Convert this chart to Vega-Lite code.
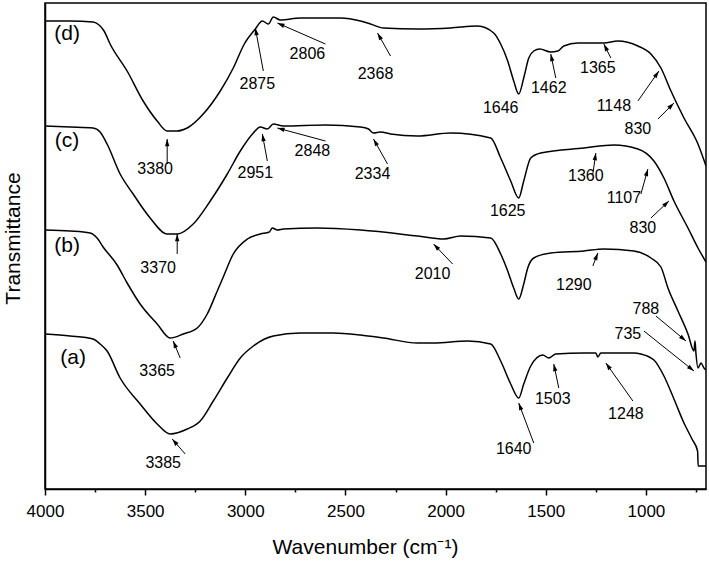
{
  "$schema": "https://vega.github.io/schema/vega-lite/v6.json",
  "width": 661,
  "height": 486,
  "autosize": "none",
  "padding": {"left": 45, "top": 3, "right": 3, "bottom": 72},
  "background": "white",
  "config": {"view": {"stroke": "black", "strokeWidth": 1.5}, "font": "Liberation Sans"},
  "datasets": {
    "spectra": [
      {"sample": "d", "wn": 4000, "t": 468}, {"sample": "d", "wn": 3875, "t": 468}, {"sample": "d", "wn": 3760, "t": 467}, {"sample": "d", "wn": 3730, "t": 464}, {"sample": "d", "wn": 3705, "t": 458}, {"sample": "d", "wn": 3675, "t": 445}, {"sample": "d", "wn": 3590, "t": 418}, {"sample": "d", "wn": 3510, "t": 388}, {"sample": "d", "wn": 3440, "t": 368}, {"sample": "d", "wn": 3390, "t": 358}, {"sample": "d", "wn": 3340, "t": 358}, {"sample": "d", "wn": 3290, "t": 361}, {"sample": "d", "wn": 3210, "t": 375}, {"sample": "d", "wn": 3125, "t": 398}, {"sample": "d", "wn": 3060, "t": 421}, {"sample": "d", "wn": 3005, "t": 445}, {"sample": "d", "wn": 2950, "t": 460}, {"sample": "d", "wn": 2915, "t": 468}, {"sample": "d", "wn": 2885, "t": 465}, {"sample": "d", "wn": 2860, "t": 472}, {"sample": "d", "wn": 2825, "t": 469}, {"sample": "d", "wn": 2725, "t": 471}, {"sample": "d", "wn": 2525, "t": 471}, {"sample": "d", "wn": 2425, "t": 468}, {"sample": "d", "wn": 2375, "t": 465}, {"sample": "d", "wn": 2310, "t": 461}, {"sample": "d", "wn": 2140, "t": 460}, {"sample": "d", "wn": 1975, "t": 461}, {"sample": "d", "wn": 1840, "t": 463}, {"sample": "d", "wn": 1760, "t": 456}, {"sample": "d", "wn": 1725, "t": 445}, {"sample": "d", "wn": 1690, "t": 428}, {"sample": "d", "wn": 1660, "t": 408}, {"sample": "d", "wn": 1635, "t": 395}, {"sample": "d", "wn": 1610, "t": 411}, {"sample": "d", "wn": 1585, "t": 431}, {"sample": "d", "wn": 1560, "t": 438}, {"sample": "d", "wn": 1530, "t": 440}, {"sample": "d", "wn": 1475, "t": 437}, {"sample": "d", "wn": 1440, "t": 438}, {"sample": "d", "wn": 1410, "t": 443}, {"sample": "d", "wn": 1340, "t": 446}, {"sample": "d", "wn": 1210, "t": 446}, {"sample": "d", "wn": 1140, "t": 448}, {"sample": "d", "wn": 1040, "t": 443}, {"sample": "d", "wn": 975, "t": 435}, {"sample": "d", "wn": 925, "t": 421}, {"sample": "d", "wn": 875, "t": 398}, {"sample": "d", "wn": 810, "t": 371}, {"sample": "d", "wn": 740, "t": 345}, {"sample": "d", "wn": 700, "t": 323},
      {"sample": "c", "wn": 4000, "t": 363}, {"sample": "c", "wn": 3875, "t": 362}, {"sample": "c", "wn": 3760, "t": 361}, {"sample": "c", "wn": 3725, "t": 357}, {"sample": "c", "wn": 3690, "t": 345}, {"sample": "c", "wn": 3625, "t": 315}, {"sample": "c", "wn": 3560, "t": 295}, {"sample": "c", "wn": 3475, "t": 271}, {"sample": "c", "wn": 3390, "t": 255}, {"sample": "c", "wn": 3340, "t": 255}, {"sample": "c", "wn": 3260, "t": 265}, {"sample": "c", "wn": 3175, "t": 288}, {"sample": "c", "wn": 3090, "t": 315}, {"sample": "c", "wn": 3025, "t": 338}, {"sample": "c", "wn": 2960, "t": 356}, {"sample": "c", "wn": 2925, "t": 362}, {"sample": "c", "wn": 2890, "t": 360}, {"sample": "c", "wn": 2860, "t": 365}, {"sample": "c", "wn": 2810, "t": 363}, {"sample": "c", "wn": 2600, "t": 364}, {"sample": "c", "wn": 2425, "t": 362}, {"sample": "c", "wn": 2385, "t": 360}, {"sample": "c", "wn": 2360, "t": 356}, {"sample": "c", "wn": 2325, "t": 357}, {"sample": "c", "wn": 2275, "t": 355}, {"sample": "c", "wn": 2140, "t": 353}, {"sample": "c", "wn": 1975, "t": 356}, {"sample": "c", "wn": 1775, "t": 351}, {"sample": "c", "wn": 1725, "t": 331}, {"sample": "c", "wn": 1675, "t": 308}, {"sample": "c", "wn": 1635, "t": 291}, {"sample": "c", "wn": 1610, "t": 308}, {"sample": "c", "wn": 1575, "t": 331}, {"sample": "c", "wn": 1525, "t": 336}, {"sample": "c", "wn": 1310, "t": 341}, {"sample": "c", "wn": 1160, "t": 344}, {"sample": "c", "wn": 1040, "t": 340}, {"sample": "c", "wn": 960, "t": 328}, {"sample": "c", "wn": 910, "t": 311}, {"sample": "c", "wn": 860, "t": 288}, {"sample": "c", "wn": 790, "t": 261}, {"sample": "c", "wn": 740, "t": 241}, {"sample": "c", "wn": 700, "t": 227},
      {"sample": "b", "wn": 4000, "t": 259}, {"sample": "b", "wn": 3875, "t": 258}, {"sample": "b", "wn": 3775, "t": 256}, {"sample": "b", "wn": 3740, "t": 251}, {"sample": "b", "wn": 3710, "t": 242}, {"sample": "b", "wn": 3640, "t": 224}, {"sample": "b", "wn": 3590, "t": 206}, {"sample": "b", "wn": 3525, "t": 185}, {"sample": "b", "wn": 3440, "t": 165}, {"sample": "b", "wn": 3375, "t": 151}, {"sample": "b", "wn": 3310, "t": 155}, {"sample": "b", "wn": 3240, "t": 161}, {"sample": "b", "wn": 3190, "t": 175}, {"sample": "b", "wn": 3140, "t": 198}, {"sample": "b", "wn": 3110, "t": 212}, {"sample": "b", "wn": 3060, "t": 235}, {"sample": "b", "wn": 2990, "t": 250}, {"sample": "b", "wn": 2925, "t": 255}, {"sample": "b", "wn": 2880, "t": 257}, {"sample": "b", "wn": 2865, "t": 261}, {"sample": "b", "wn": 2840, "t": 259}, {"sample": "b", "wn": 2810, "t": 260}, {"sample": "b", "wn": 2640, "t": 261}, {"sample": "b", "wn": 2425, "t": 259}, {"sample": "b", "wn": 2140, "t": 253}, {"sample": "b", "wn": 2010, "t": 250}, {"sample": "b", "wn": 1925, "t": 253}, {"sample": "b", "wn": 1775, "t": 251}, {"sample": "b", "wn": 1725, "t": 235}, {"sample": "b", "wn": 1690, "t": 218}, {"sample": "b", "wn": 1660, "t": 201}, {"sample": "b", "wn": 1635, "t": 190}, {"sample": "b", "wn": 1610, "t": 205}, {"sample": "b", "wn": 1590, "t": 221}, {"sample": "b", "wn": 1560, "t": 231}, {"sample": "b", "wn": 1475, "t": 236}, {"sample": "b", "wn": 1310, "t": 238}, {"sample": "b", "wn": 1210, "t": 240}, {"sample": "b", "wn": 1060, "t": 238}, {"sample": "b", "wn": 975, "t": 231}, {"sample": "b", "wn": 925, "t": 222}, {"sample": "b", "wn": 890, "t": 201}, {"sample": "b", "wn": 840, "t": 178}, {"sample": "b", "wn": 790, "t": 155}, {"sample": "b", "wn": 760, "t": 138}, {"sample": "b", "wn": 755, "t": 148}, {"sample": "b", "wn": 750, "t": 135}, {"sample": "b", "wn": 740, "t": 121}, {"sample": "b", "wn": 725, "t": 126}, {"sample": "b", "wn": 710, "t": 121}, {"sample": "b", "wn": 700, "t": 119},
      {"sample": "a", "wn": 4000, "t": 155}, {"sample": "a", "wn": 3875, "t": 153}, {"sample": "a", "wn": 3760, "t": 150}, {"sample": "a", "wn": 3725, "t": 145}, {"sample": "a", "wn": 3690, "t": 138}, {"sample": "a", "wn": 3625, "t": 111}, {"sample": "a", "wn": 3525, "t": 85}, {"sample": "a", "wn": 3440, "t": 65}, {"sample": "a", "wn": 3375, "t": 55}, {"sample": "a", "wn": 3290, "t": 60}, {"sample": "a", "wn": 3225, "t": 68}, {"sample": "a", "wn": 3160, "t": 88}, {"sample": "a", "wn": 3090, "t": 111}, {"sample": "a", "wn": 3025, "t": 131}, {"sample": "a", "wn": 2960, "t": 143}, {"sample": "a", "wn": 2860, "t": 153}, {"sample": "a", "wn": 2725, "t": 156}, {"sample": "a", "wn": 2560, "t": 156}, {"sample": "a", "wn": 2425, "t": 154}, {"sample": "a", "wn": 2310, "t": 151}, {"sample": "a", "wn": 2140, "t": 146}, {"sample": "a", "wn": 2060, "t": 146}, {"sample": "a", "wn": 1890, "t": 148}, {"sample": "a", "wn": 1775, "t": 145}, {"sample": "a", "wn": 1725, "t": 128}, {"sample": "a", "wn": 1675, "t": 105}, {"sample": "a", "wn": 1635, "t": 91}, {"sample": "a", "wn": 1610, "t": 105}, {"sample": "a", "wn": 1575, "t": 123}, {"sample": "a", "wn": 1515, "t": 134}, {"sample": "a", "wn": 1485, "t": 131}, {"sample": "a", "wn": 1450, "t": 135}, {"sample": "a", "wn": 1310, "t": 136}, {"sample": "a", "wn": 1250, "t": 136}, {"sample": "a", "wn": 1240, "t": 132}, {"sample": "a", "wn": 1225, "t": 136}, {"sample": "a", "wn": 1060, "t": 136}, {"sample": "a", "wn": 1025, "t": 135}, {"sample": "a", "wn": 960, "t": 129}, {"sample": "a", "wn": 910, "t": 113}, {"sample": "a", "wn": 860, "t": 90}, {"sample": "a", "wn": 810, "t": 66}, {"sample": "a", "wn": 770, "t": 50}, {"sample": "a", "wn": 742, "t": 38}, {"sample": "a", "wn": 739, "t": 23}, {"sample": "a", "wn": 700, "t": 23}
    ],
    "arrows": [
      {"label": "2875", "x1": 2910, "y1": 418, "x2": 2950, "y2": 461},
      {"label": "2806", "x1": 2600, "y1": 445, "x2": 2840, "y2": 466},
      {"label": "3380", "x1": 3390, "y1": 325, "x2": 3390, "y2": 350},
      {"label": "2951", "x1": 2890, "y1": 328, "x2": 2915, "y2": 355},
      {"label": "2848", "x1": 2600, "y1": 348, "x2": 2840, "y2": 361},
      {"label": "3370", "x1": 3340, "y1": 235, "x2": 3340, "y2": 255},
      {"label": "2368", "x1": 2275, "y1": 433, "x2": 2340, "y2": 456},
      {"label": "1462", "x1": 1450, "y1": 411, "x2": 1475, "y2": 435},
      {"label": "1365", "x1": 1175, "y1": 431, "x2": 1210, "y2": 445},
      {"label": "1148", "x1": 1040, "y1": 388, "x2": 935, "y2": 418},
      {"label": "830", "x1": 940, "y1": 370, "x2": 860, "y2": 386},
      {"label": "2334", "x1": 2290, "y1": 325, "x2": 2360, "y2": 350},
      {"label": "1360", "x1": 1265, "y1": 315, "x2": 1250, "y2": 336},
      {"label": "1107", "x1": 1025, "y1": 295, "x2": 990, "y2": 320},
      {"label": "830", "x1": 975, "y1": 271, "x2": 885, "y2": 288},
      {"label": "2010", "x1": 1965, "y1": 225, "x2": 2060, "y2": 245},
      {"label": "1290", "x1": 1265, "y1": 223, "x2": 1240, "y2": 236},
      {"label": "3365", "x1": 3325, "y1": 131, "x2": 3360, "y2": 148},
      {"label": "3385", "x1": 3300, "y1": 35, "x2": 3365, "y2": 50},
      {"label": "788", "x1": 950, "y1": 173, "x2": 800, "y2": 148},
      {"label": "735", "x1": 1010, "y1": 158, "x2": 760, "y2": 118},
      {"label": "1640", "x1": 1560, "y1": 46, "x2": 1635, "y2": 86},
      {"label": "1503", "x1": 1435, "y1": 101, "x2": 1460, "y2": 125},
      {"label": "1248", "x1": 1065, "y1": 88, "x2": 1200, "y2": 126}
    ],
    "peaks": [
      {"label": "2875", "wn": 2940, "t": 405},
      {"label": "2806", "wn": 2690, "t": 435},
      {"label": "3380", "wn": 3450, "t": 320},
      {"label": "2951", "wn": 2950, "t": 316},
      {"label": "2848", "wn": 2665, "t": 338},
      {"label": "3370", "wn": 3435, "t": 221},
      {"label": "2368", "wn": 2350, "t": 415},
      {"label": "1646", "wn": 1725, "t": 381},
      {"label": "1462", "wn": 1485, "t": 401},
      {"label": "1365", "wn": 1240, "t": 421},
      {"label": "1148", "wn": 1160, "t": 383},
      {"label": "830", "wn": 1040, "t": 360},
      {"label": "2334", "wn": 2365, "t": 315},
      {"label": "1625", "wn": 1690, "t": 278},
      {"label": "1360", "wn": 1300, "t": 313},
      {"label": "1107", "wn": 1110, "t": 291},
      {"label": "830", "wn": 1015, "t": 261},
      {"label": "2010", "wn": 2065, "t": 215},
      {"label": "1290", "wn": 1360, "t": 204},
      {"label": "3365", "wn": 3440, "t": 118},
      {"label": "3385", "wn": 3410, "t": 26},
      {"label": "788", "wn": 1000, "t": 180},
      {"label": "735", "wn": 1090, "t": 155},
      {"label": "1640", "wn": 1660, "t": 40},
      {"label": "1503", "wn": 1465, "t": 90},
      {"label": "1248", "wn": 1100, "t": 75}
    ],
    "samples": [
      {"label": "(d)", "wn": 3890, "t": 455},
      {"label": "(c)", "wn": 3890, "t": 348},
      {"label": "(b)", "wn": 3890, "t": 243},
      {"label": "(a)", "wn": 3860, "t": 131}
    ]
  },
  "layer": [
    {
      "data": {"name": "spectra"},
      "mark": {"type": "line", "color": "black", "strokeWidth": 1.5, "clip": true, "interpolate": "monotone"},
      "encoding": {
        "x": {
          "field": "wn", "type": "quantitative",
          "scale": {"domain": [4000, 700], "nice": false, "zero": false},
          "axis": {
            "title": "Wavenumber (cm⁻¹)",
            "values": [4000, 3750, 3500, 3250, 3000, 2750, 2500, 2250, 2000, 1750, 1500, 1250, 1000, 750],
            "format": "d",
            "labelExpr": "datum.value % 500 === 0 ? datum.label : ''",
            "tickSize": {"condition": {"test": "datum.value % 500 === 0", "value": 6}, "value": 3},
            "grid": false,
            "domainColor": "black", "domainWidth": 1.5,
            "tickColor": "black", "tickWidth": 1.5,
            "labelFontSize": 17, "labelColor": "black", "labelPadding": 8,
            "labelFlush": false, "labelOverlap": false,
            "titleFontSize": 21, "titleFontWeight": "normal", "titleColor": "black",
            "titleX": 320, "titleY": 64, "titleBaseline": "alphabetic"
          }
        },
        "y": {
          "field": "t", "type": "quantitative",
          "scale": {"domain": [0, 486], "nice": false, "zero": false},
          "axis": {
            "title": "Transmittance",
            "labels": false, "ticks": false, "grid": false,
            "domainColor": "black", "domainWidth": 1.5,
            "titleFontSize": 21, "titleFontWeight": "normal", "titleColor": "black",
            "titleX": -32, "titleY": 235, "titleAngle": -90, "titleBaseline": "middle", "titleAlign": "center"
          }
        },
        "detail": {"field": "sample"},
        "order": {"field": "wn", "sort": "descending"}
      }
    },
    {
      "data": {"name": "arrows"},
      "mark": {"type": "rule", "color": "black", "strokeWidth": 1},
      "encoding": {
        "x": {"field": "x1", "type": "quantitative"},
        "y": {"field": "y1", "type": "quantitative"},
        "x2": {"field": "x2"},
        "y2": {"field": "y2"}
      }
    },
    {
      "data": {"name": "arrows"},
      "mark": {"type": "point", "shape": "M0,0L0.55,1.8L-0.55,1.8Z", "filled": true, "color": "black", "opacity": 1, "size": 64, "strokeWidth": 0,
        "angle": {"expr": "atan2(-0.2003 * (datum.x2 - datum.x1), datum.y2 - datum.y1) * 180 / PI"}},
      "encoding": {
        "x": {"field": "x2", "type": "quantitative"},
        "y": {"field": "y2", "type": "quantitative"}
      }
    },
    {
      "data": {"name": "peaks"},
      "mark": {"type": "text", "fontSize": 16, "color": "black", "align": "center", "baseline": "middle"},
      "encoding": {
        "x": {"field": "wn", "type": "quantitative"},
        "y": {"field": "t", "type": "quantitative"},
        "text": {"field": "label"}
      }
    },
    {
      "data": {"name": "samples"},
      "mark": {"type": "text", "fontSize": 21, "color": "black", "align": "center", "baseline": "middle"},
      "encoding": {
        "x": {"field": "wn", "type": "quantitative"},
        "y": {"field": "t", "type": "quantitative"},
        "text": {"field": "label"}
      }
    }
  ]
}
